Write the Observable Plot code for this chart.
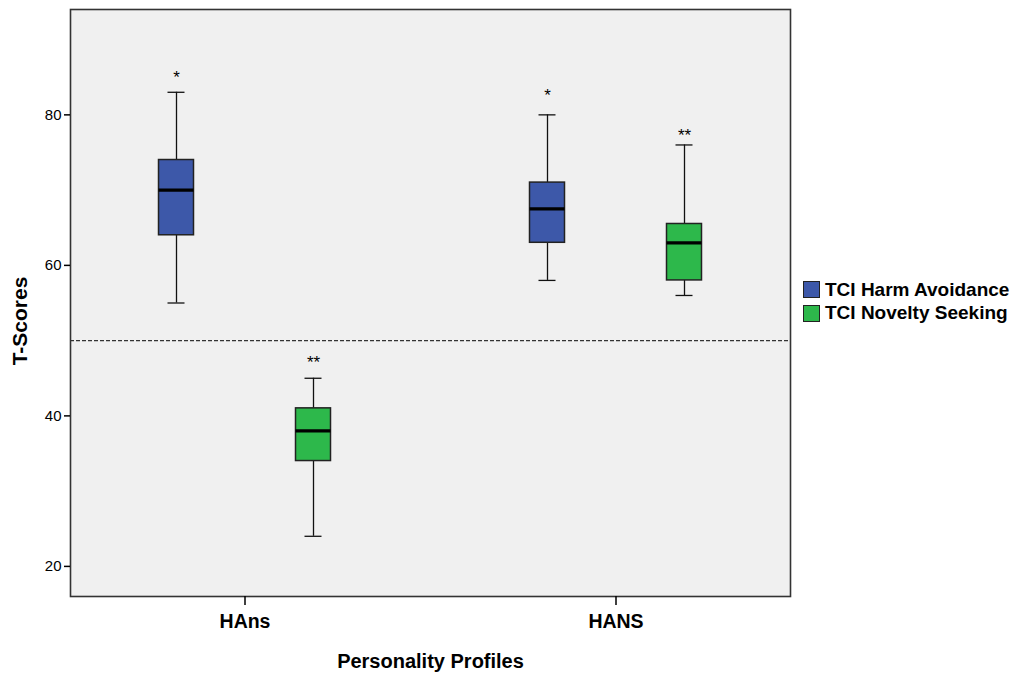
<!DOCTYPE html>
<html>
<head>
<meta charset="utf-8">
<script src="https://cdn.jsdelivr.net/npm/d3@7"></script>
<script src="https://cdn.jsdelivr.net/npm/@observablehq/plot@0.6"></script>
<style>
  html, body { margin: 0; padding: 0; background: #fff; }
  #wrap { position: relative; width: 1016px; height: 677px; font-family: "Liberation Sans", Arial, sans-serif; }
  #legend { position: absolute; left: 803px; top: 278px; font-weight: bold; font-size: 19px; color: #000; }
  .item { display: flex; align-items: center; height: 23.5px; }
  .sw { width: 15px; height: 15px; border: 1.5px solid #222; margin-right: 5px; box-sizing: content-box; }
</style>
</head>
<body>
<div id="wrap"></div>
<script>
const groups = ["HAns", "HANS"];
const series = ["TCI Harm Avoidance", "TCI Novelty Seeking"];
const colors = ["#3d58a9", "#2db84b"];
const yTicks = [20, 40, 60, 80];

// Harm Avoidance
const haLow  = [55, 58];
const haQ1   = [64, 63];
const haMed  = [70, 67.5];
const haQ3   = [74, 71];
const haHigh = [83, 80];
const haStar = ["*", "*"];
const haStarY = [85.4, 82.9];
// Novelty Seeking
const nsLow  = [24, 56];
const nsQ1   = [34, 58];
const nsMed  = [38, 63];
const nsQ3   = [41, 65.5];
const nsHigh = [45, 76];
const nsStar = ["**", "**"];
const nsStarY = [47.5, 77.7];

const reference = [50];

const ha = groups.map((g, i) => ({group: g, low: haLow[i], q1: haQ1[i], med: haMed[i], q3: haQ3[i], high: haHigh[i], star: haStar[i], starY: haStarY[i]}));
const ns = groups.map((g, i) => ({group: g, low: nsLow[i], q1: nsQ1[i], med: nsMed[i], q3: nsQ3[i], high: nsHigh[i], star: nsStar[i], starY: nsStarY[i]}));

function boxMarks(rows, fill, dx) {
  return [
    Plot.ruleX(rows, {x: "group", y1: "q3", y2: "high", stroke: "#111", strokeWidth: 1.3, dx}),
    Plot.ruleX(rows, {x: "group", y1: "low", y2: "q1", stroke: "#111", strokeWidth: 1.3, dx}),
    Plot.tickY(rows, {x: "group", y: "high", stroke: "#111", strokeWidth: 1.3, insetLeft: 9, insetRight: 9, dx}),
    Plot.tickY(rows, {x: "group", y: "low", stroke: "#111", strokeWidth: 1.3, insetLeft: 9, insetRight: 9, dx}),
    Plot.barY(rows, {x: "group", y1: "q1", y2: "q3", fill, stroke: "#222", strokeWidth: 1.5, dx}),
    Plot.tickY(rows, {x: "group", y: "med", stroke: "#000", strokeWidth: 3.2, dx}),
    Plot.text(rows, {x: "group", y: "starY", text: "star", dx, dy: 3, fontSize: 17, fill: "#000"})
  ];
}

const chart = Plot.plot({
  width: 1016,
  height: 677,
  marginTop: 9,
  marginBottom: 81,
  marginLeft: 70,
  marginRight: 226,
  style: {background: "#fff", fontFamily: "'Liberation Sans', Arial, sans-serif", color: "#000"},
  x: {type: "band", domain: groups, paddingInner: 0.9059, paddingOuter: 0.4207},
  y: {domain: [16, 94]},
  marks: [
    Plot.frame({fill: "#f0f0f0"}),
    Plot.ruleY(reference, {stroke: "#333", strokeWidth: 1.2, strokeDasharray: "4,2"}),
    ...boxMarks(ha, colors[0], -68.5),
    ...boxMarks(ns, colors[1], 68.5),
    Plot.frame({stroke: "#333", strokeWidth: 1.6}),
    Plot.axisY({ticks: yTicks, tickSize: 6, tickPadding: 3, fontSize: 15, label: null, strokeWidth: 1.5}),
    Plot.axisX({tickSize: 9, tickPadding: 9, fontSize: 19.5, fontWeight: "bold", label: null, strokeWidth: 1.5}),
    Plot.text(["Personality Profiles"], {frameAnchor: "bottom", lineAnchor: "middle", textAnchor: "middle", dy: 65, fontSize: 20, fontWeight: "bold", fill: "#000"}),
    Plot.text(["T-Scores"], {frameAnchor: "left", lineAnchor: "middle", textAnchor: "middle", dx: -50, dy: 18, rotate: -90, fontSize: 21, fontWeight: "bold", fill: "#000"})
  ]
});

const wrap = document.getElementById("wrap");
wrap.appendChild(chart);
const legend = document.createElement("div");
legend.id = "legend";
series.forEach((s, i) => {
  const it = document.createElement("div");
  it.className = "item";
  const sw = document.createElement("span");
  sw.className = "sw";
  sw.style.background = colors[i];
  const t = document.createElement("span");
  t.textContent = s;
  it.appendChild(sw); it.appendChild(t);
  legend.appendChild(it);
});
wrap.appendChild(legend);
</script>
</body>
</html>
